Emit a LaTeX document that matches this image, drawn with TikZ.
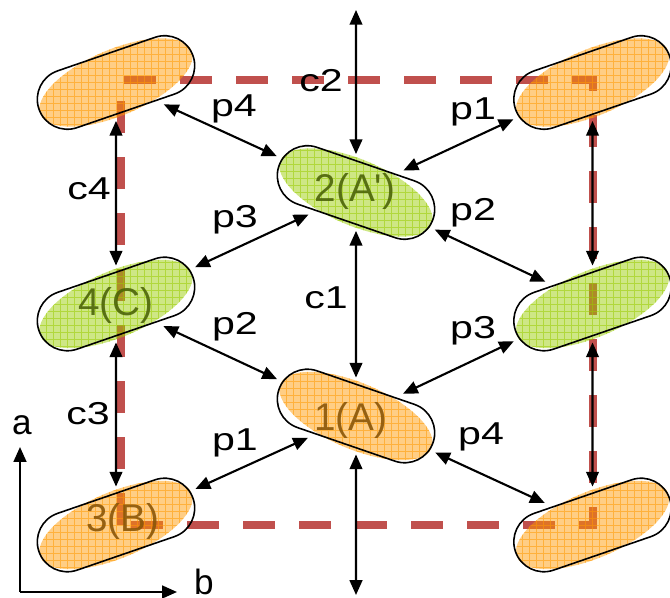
\documentclass[tikz,border=0pt]{standalone}
\usepackage{fontspec}
\setmainfont{Liberation Sans}
\usetikzlibrary{arrows.meta,shapes.misc}
\definecolor{cellorange}{HTML}{FF9900}
\definecolor{cellgreen}{HTML}{99CC00}
\definecolor{framered}{HTML}{C0504D}
\definecolor{orangetext}{HTML}{8A5608}
\definecolor{greentext}{HTML}{4C6408}
\tikzset{
	molecule/.style={draw, line width=0.45pt, rounded rectangle, minimum width=1.63cm, minimum height=0.6cm, inner sep=0pt, outer sep=1.8pt},
	pics/cellfill/.style args={#1:#2}{code={
		\fill[#1, opacity=0.48, rotate=#2] (0,0) ellipse (0.82 and 0.33);
		\begin{scope}
			\clip[rotate=#2] (0,0) ellipse (0.82 and 0.33);
			\draw[#1, line width=0.25pt, opacity=0.55, step=0.07] (-1,-1) grid (1,1);
		\end{scope}
	}},
	contact/.style={<->, >={Triangle[length=4.2pt,width=3.6pt]}, line width=0.6pt},
	axisline/.style={->, >={Triangle[length=4.2pt,width=3.6pt]}, line width=0.6pt},
	cellname/.style={font=\fontsize{11}{13}\selectfont, inner sep=0pt, opacity=0.9},
	bondname/.style={font=\fontsize{9}{11}\selectfont, xscale=1.3, inner sep=0pt},
	axisname/.style={font=\fontsize{10}{12}\selectfont, inner sep=0pt}
	}

\begin{document}
\begin{tikzpicture}

	\useasboundingbox (0,0) rectangle (6.7,5.98);

	% unit cell frame
	\coordinate (frameSW) at (1.21,0.73);
	\coordinate (frameNW) at (1.21,5.18);
	\coordinate (frameNE) at (5.93,5.18);
	\coordinate (frameSE) at (5.93,0.73);
	\draw[framered, line width=2.3pt, dash pattern=on 0.32cm off 0.24cm] (frameSW) -- (frameNW) -- (frameNE) -- (frameSE) -- cycle;

	% hatched fills
	\pic at (1.16,5.155) {cellfill=cellorange:23};
	\pic at (5.925,5.155) {cellfill=cellorange:23};
	\pic at (3.56,4.055) {cellfill=cellgreen:-23};
	\pic at (1.16,2.94) {cellfill=cellgreen:23};
	\pic at (5.925,2.94) {cellfill=cellgreen:23};
	\pic at (3.56,1.82) {cellfill=cellorange:-23};
	\pic at (1.16,0.73) {cellfill=cellorange:23};
	\pic at (5.925,0.73) {cellfill=cellorange:23};

	% molecule names
	\node[cellname, greentext] (nameAp) at (3.55,4.06) {2(A\textquotesingle)};
	\node[cellname, greentext] (nameC) at (1.16,2.92) {4(C)};
	\node[cellname, orangetext] (nameA) at (3.51,1.78) {1(A)};
	\node[cellname, orangetext] (nameB) at (1.23,0.77) {3(B)};

	% molecule outlines
	\node[molecule, rotate=19] (molNW) at (1.16,5.155) {};
	\node[molecule, rotate=19] (molNE) at (5.925,5.155) {};
	\node[molecule, rotate=-19] (molAp) at (3.56,4.055) {};
	\node[molecule, rotate=19] (molC) at (1.16,2.94) {};
	\node[molecule, rotate=19] (molE) at (5.925,2.94) {};
	\node[molecule, rotate=-19] (molA) at (3.56,1.82) {};
	\node[molecule, rotate=19] (molB) at (1.16,0.73) {};
	\node[molecule, rotate=19] (molSE) at (5.925,0.73) {};

	% contacts along c
	\coordinate (stackTop) at (3.56,5.88);
	\coordinate (stackBottom) at (3.56,0.03);
	\draw[contact] (stackTop) -- (molAp);
	\draw[contact] (molAp) -- (molA);
	\draw[contact] (molA) -- (stackBottom);
	\draw[contact] (molNW) -- (molC);
	\draw[contact] (molC) -- (molB);
	\draw[contact] (molNE) -- (molE);
	\draw[contact] (molE) -- (molSE);

	% contacts across the diagonals
	\draw[contact] (molNW) -- (molAp);
	\draw[contact] (molAp) -- (molNE);
	\draw[contact] (molC) -- (molAp);
	\draw[contact] (molAp) -- (molE);
	\draw[contact] (molC) -- (molA);
	\draw[contact] (molA) -- (molE);
	\draw[contact] (molB) -- (molA);
	\draw[contact] (molA) -- (molSE);

	% contact labels
	\node[bondname] (c2) at (3.21,5.17) {c2};
	\node[bondname] (c1) at (3.26,3.00) {c1};
	\node[bondname] (c4) at (0.89,4.09) {c4};
	\node[bondname] (c3) at (0.88,1.84) {c3};
	\node[bondname] (p4top) at (2.34,4.89) {p4};
	\node[bondname] (p1top) at (4.73,4.86) {p1};
	\node[bondname] (p3top) at (2.35,3.78) {p3};
	\node[bondname] (p2top) at (4.73,3.85) {p2};
	\node[bondname] (p2low) at (2.35,2.71) {p2};
	\node[bondname] (p3low) at (4.73,2.67) {p3};
	\node[bondname] (p1low) at (2.35,1.55) {p1};
	\node[bondname] (p4low) at (4.81,1.61) {p4};

	% axes
	\coordinate (origin) at (0.20,0.06);
	\coordinate (aTip) at (0.20,1.51);
	\coordinate (bTip) at (1.77,0.06);
	\draw[axisline] (origin) -- (aTip);
	\draw[axisline] (origin) -- (bTip);
	\node[axisname] (aName) at (0.22,1.73) {a};
	\node[axisname] (bName) at (2.04,0.16) {b};

\end{tikzpicture}
\end{document}
